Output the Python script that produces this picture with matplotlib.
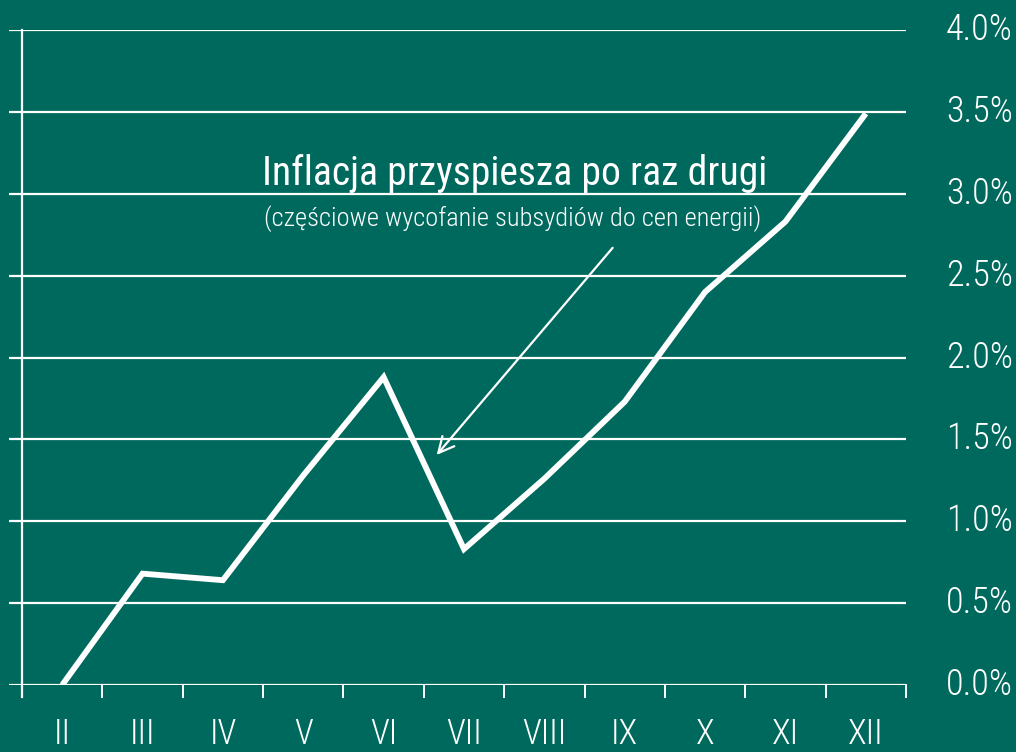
import matplotlib
matplotlib.use("Agg")
import matplotlib.pyplot as plt
from matplotlib import font_manager

# Monthly inflation data (m/m cumulative, %)
months = ['II', 'III', 'IV', 'V', 'VI', 'VII', 'VIII', 'IX', 'X', 'XI', 'XII']
inflation = [0.0, 0.68, 0.64, 1.28, 1.88, 0.83, 1.26, 1.73, 2.40, 2.83, 3.49]
y_ticks = [0.0, 0.5, 1.0, 1.5, 2.0, 2.5, 3.0, 3.5, 4.0]
y_labels = ['0.0%', '0.5%', '1.0%', '1.5%', '2.0%', '2.5%', '3.0%', '3.5%', '4.0%']

title = 'Inflacja przyspiesza po raz drugi'
subtitle = '(częściowe wycofanie subsydiów do cen energii)'

BG = '#00695d'
FG = 'white'

# pick a narrow font if one is installed
available = {f.name for f in font_manager.fontManager.ttflist}
font = 'DejaVu Sans'
for cand in ['Roboto Condensed', 'Liberation Sans Narrow', 'Open Sans Condensed', 'Noto Sans Condensed']:
    if cand in available:
        font = cand
        break
plt.rcParams['font.family'] = [font, 'DejaVu Sans']

fig = plt.figure(figsize=(10.16, 7.52), dpi=100, facecolor=BG)
# axes spans from the left end of the gridlines to the right end, 0% to 4%
ax = fig.add_axes([9 / 1016, 1 - 685 / 752, 897 / 1016, 655 / 752])
ax.set_facecolor(BG)
for s in ax.spines.values():
    s.set_visible(False)

n = len(months)
x = list(range(n))
ax.set_xlim(-0.5 - 13 / 80.4, n - 0.5)
ax.set_ylim(0, 4)

# horizontal grid
for yv in y_ticks:
    ax.axhline(yv, color=FG, lw=1.6, zorder=1)
# left axis line and bottom tick marks between categories
ax.plot([-0.5, -0.5], [-0.075, 4], color=FG, lw=1.6, clip_on=False, zorder=2)
for b in range(1, n + 1):
    ax.plot([b - 0.5, b - 0.5], [-0.075, 0], color=FG, lw=1.4, clip_on=False, zorder=2)

ax.plot(x, inflation, color=FG, lw=4.2, solid_joinstyle='miter', solid_capstyle='butt', zorder=3)

ax.set_xticks([])
ax.set_yticks([])
for xi, lab in zip(x, months):
    ax.text(xi, -0.403, lab, color=FG, fontsize=25, fontweight='light',
            ha='center', va='bottom', clip_on=False)
for yv, lab in zip(y_ticks, y_labels):
    fig.text(1013 / 1016, ax.transData.transform((0, yv))[1] / 752, lab, color=FG,
             fontsize=26, fontweight='light', ha='right', va='center')

ax.text(5.63, 3.053, title, color=FG, fontsize=28.5, ha='center', va='baseline')
ax.text(5.61, 2.80, subtitle, color=FG, fontsize=19, fontweight='light',
        ha='center', va='baseline')

ax.annotate('', xy=(4.66, 1.405), xytext=(6.85, 2.67),
            arrowprops=dict(arrowstyle='->', color=FG, lw=1.6,
                            mutation_scale=28, shrinkA=0, shrinkB=0))

fig.savefig('out.png', dpi=100, facecolor=BG)
